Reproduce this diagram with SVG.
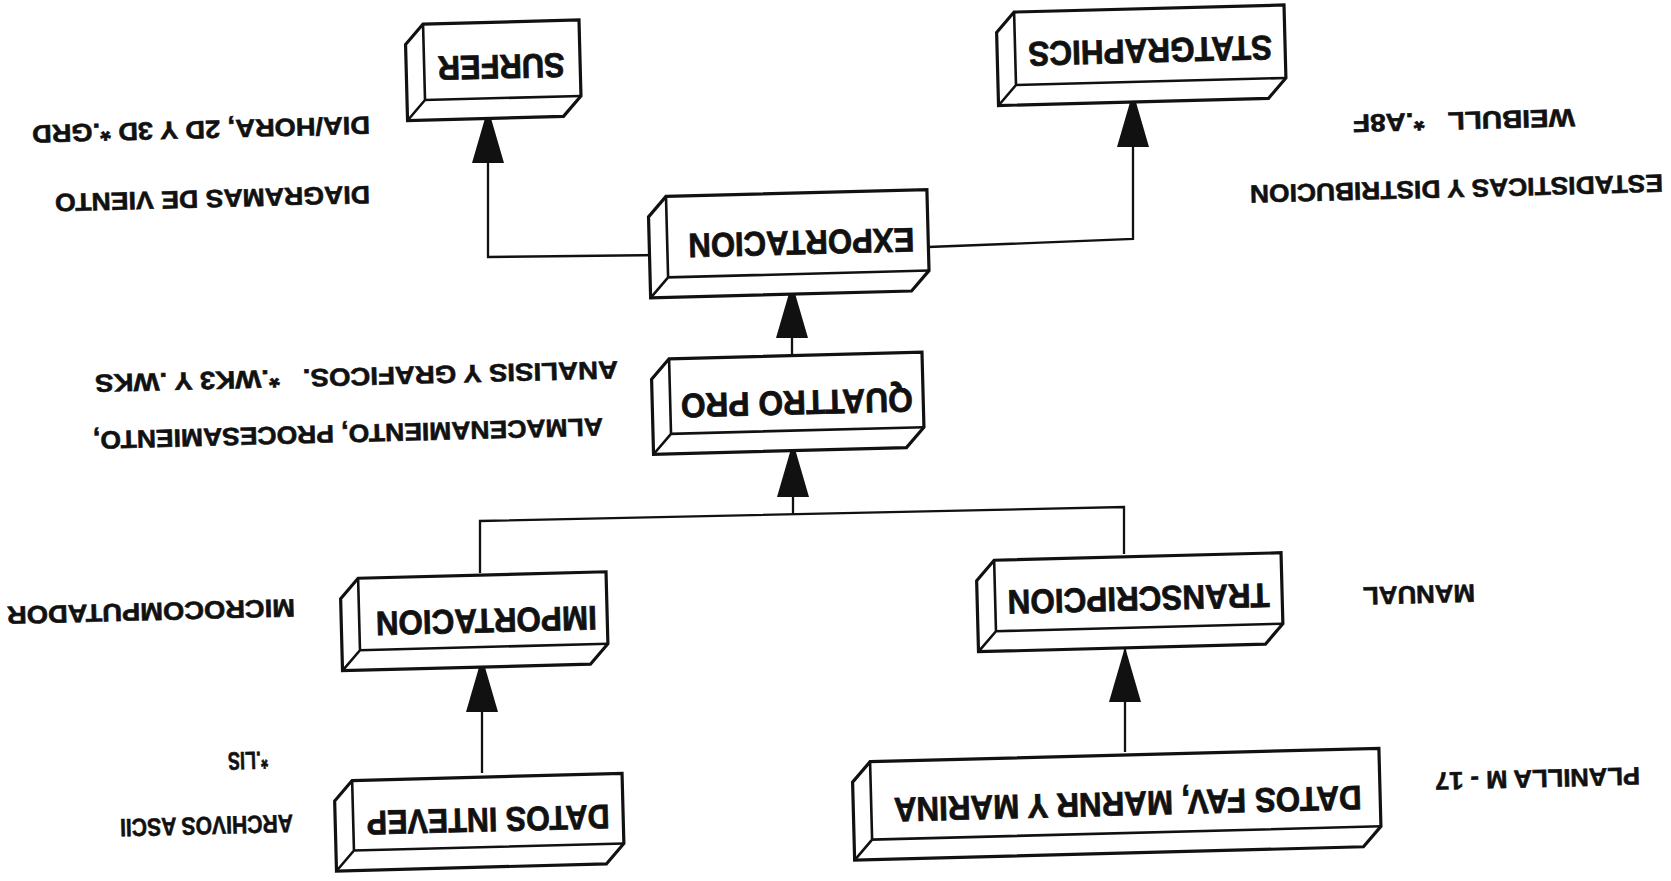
<svg xmlns="http://www.w3.org/2000/svg" width="1671" height="881" viewBox="0 0 1671 881">
<defs>
<style>
.o{fill:#fff;stroke:#111;stroke-width:3.2;stroke-linejoin:miter}
.i{fill:none;stroke:#111;stroke-width:2.6}
.bt{font-family:"Liberation Sans",Arial,sans-serif;font-weight:bold;font-size:34px;fill:#111;stroke:#111;stroke-width:0.8;text-anchor:middle;dominant-baseline:central}
.lbl{font-family:"Liberation Sans",Arial,sans-serif;font-weight:bold;font-size:25px;fill:#111;stroke:#111;stroke-width:0.6;text-anchor:middle;dominant-baseline:central}
.cn{fill:none;stroke:#111;stroke-width:2.3}
</style>
<marker id="ah" markerUnits="userSpaceOnUse" markerWidth="55" markerHeight="32" viewBox="0 0 55 32" refX="55" refY="16" orient="auto"><path d="M0,0 L55,16 L0,32 Z" fill="#111"/></marker>
</defs>
<rect width="1671" height="881" fill="#fff"/>

<g id="connectors">
<polyline class="cn" points="664,255 488,257 488,108" marker-end="url(#ah)"/>
<polyline class="cn" points="928,247 1133,239 1133,92" marker-end="url(#ah)"/>
<polyline class="cn" points="792,357 792,283" marker-end="url(#ah)"/>
<polyline class="cn" points="480,573 480,521 1124,507 1124,554"/>
<polyline class="cn" points="793,514 793,442" marker-end="url(#ah)"/>
<polyline class="cn" points="482,773 482,657" marker-end="url(#ah)"/>
<polyline class="cn" points="1125,752 1125,647" marker-end="url(#ah)"/>
</g>

<g id="surfer" transform="translate(502,60) rotate(-1.5)">
<path class="o" d="M-78,-38 H78 V38 L60,58 H-96 V-18 Z"/>
<path class="i" d="M-78,-38 V38 H78 M-78,38 L-96,58"/>
<text class="bt" x="-1" y="7" transform="rotate(180 -1 7)" textLength="127" lengthAdjust="spacingAndGlyphs">SURFER</text>
</g>

<g id="statgraphics" transform="translate(1150,45) rotate(-1.5)">
<path class="o" d="M-135,-36.5 H135 V36.5 L117,56.5 H-153 V-16.5 Z"/>
<path class="i" d="M-135,-36.5 V36.5 H135 M-135,36.5 L-153,56.5"/>
<text class="bt" x="0" y="6" transform="rotate(180 0 6)" textLength="244" lengthAdjust="spacingAndGlyphs">STATGRAPHICS</text>
</g>

<g id="exportacion" transform="translate(797.5,233.5) rotate(-1.5)">
<path class="o" d="M-130.5,-40.5 H130.5 V40.5 L112.5,60.5 H-148.5 V-20.5 Z"/>
<path class="i" d="M-130.5,-40.5 V40.5 H130.5 M-130.5,40.5 L-148.5,60.5"/>
<text class="bt" x="3.5" y="9.5" transform="rotate(180 3.5 9.5)" textLength="226" lengthAdjust="spacingAndGlyphs">EXPORTACION</text>
</g>

<g id="quattro" transform="translate(796.5,393) rotate(-1.5)">
<path class="o" d="M-126.5,-37.5 H126.5 V37.5 L108.5,57.5 H-144.5 V-17.5 Z"/>
<path class="i" d="M-126.5,-37.5 V37.5 H126.5 M-126.5,37.5 L-144.5,57.5"/>
<text class="bt" x="0" y="10" transform="rotate(180 0 10)" textLength="232" lengthAdjust="spacingAndGlyphs">QUATTRO PRO</text>
</g>

<g id="importacion" transform="translate(483,611) rotate(-1.5)">
<path class="o" d="M-124,-36 H124 V36 L106,56 H-142 V-16 Z"/>
<path class="i" d="M-124,-36 V36 H124 M-124,36 L-142,56"/>
<text class="bt" x="3" y="10" transform="rotate(180 3 10)" textLength="221" lengthAdjust="spacingAndGlyphs">IMPORTACION</text>
</g>

<g id="intevep" transform="translate(488,812) rotate(-1.5)">
<path class="o" d="M-135,-35 H135 V35 L117,55 H-153 V-15 Z"/>
<path class="i" d="M-135,-35 V35 H135 M-135,35 L-153,55"/>
<text class="bt" x="0" y="8" transform="rotate(180 0 8)" textLength="243" lengthAdjust="spacingAndGlyphs">DATOS INTEVEP</text>
</g>

<g id="transcripcion" transform="translate(1138.5,592) rotate(-1.5)">
<path class="o" d="M-143.5,-35.5 H143.5 V35.5 L125.5,55.5 H-161.5 V-15.5 Z"/>
<path class="i" d="M-143.5,-35.5 V35.5 H143.5 M-143.5,35.5 L-161.5,55.5"/>
<text class="bt" x="0" y="7" transform="rotate(180 0 7)" textLength="262" lengthAdjust="spacingAndGlyphs">TRANSCRIPCION</text>
</g>

<g id="datosfav" transform="translate(1125.5,794) rotate(-1.5)">
<path class="o" d="M-254.5,-39 H254.5 V39 L236.5,59 H-272.5 V-19 Z"/>
<path class="i" d="M-254.5,-39 V39 H254.5 M-254.5,39 L-272.5,59"/>
<text class="bt" x="2" y="10" transform="rotate(180 2 10)" textLength="468" lengthAdjust="spacingAndGlyphs">DATOS FAV, MARNR Y MARINA</text>
</g>

<g id="labels">
<text class="lbl" transform="translate(201,130) rotate(178.5)" textLength="338" lengthAdjust="spacingAndGlyphs">DIA/HORA, 2D Y 3D *.GRD</text>
<text class="lbl" transform="translate(212.5,199) rotate(178.5)" textLength="315" lengthAdjust="spacingAndGlyphs">DIAGRAMAS DE VIENTO</text>
<text class="lbl" transform="translate(356.5,377) rotate(178.5)" textLength="523" lengthAdjust="spacingAndGlyphs">ANALISIS Y GRAFICOS.&#160;&#160;&#160;*.WK3 Y .WKS</text>
<text class="lbl" transform="translate(348,434) rotate(178.5)" textLength="510" lengthAdjust="spacingAndGlyphs">ALMACENAMIENTO, PROCESAMIENTO,</text>
<text class="lbl" transform="translate(1464,121) rotate(178.5)" textLength="222" lengthAdjust="spacingAndGlyphs">WEIBULL&#160;&#160;&#160;*.A8F</text>
<text class="lbl" transform="translate(1456.5,189) rotate(178.5)" textLength="413" lengthAdjust="spacingAndGlyphs">ESTADISTICAS Y DISTRIBUCION</text>
<text class="lbl" transform="translate(151,612) rotate(178.5)" textLength="288" lengthAdjust="spacingAndGlyphs">MICROCOMPUTADOR</text>
<text class="lbl" transform="translate(1419,595) rotate(178.5)" textLength="112" lengthAdjust="spacingAndGlyphs">MANUAL</text>
<text class="lbl" transform="translate(248,761) rotate(178.5)" textLength="40" lengthAdjust="spacingAndGlyphs">*.LIS</text>
<text class="lbl" transform="translate(206.5,826) rotate(178.5)" textLength="173" lengthAdjust="spacingAndGlyphs">ARCHIVOS ASCII</text>
<text class="lbl" transform="translate(1537.5,779) rotate(178.5)" textLength="205" lengthAdjust="spacingAndGlyphs">PLANILLA M - 17</text>
</g>
</svg>
